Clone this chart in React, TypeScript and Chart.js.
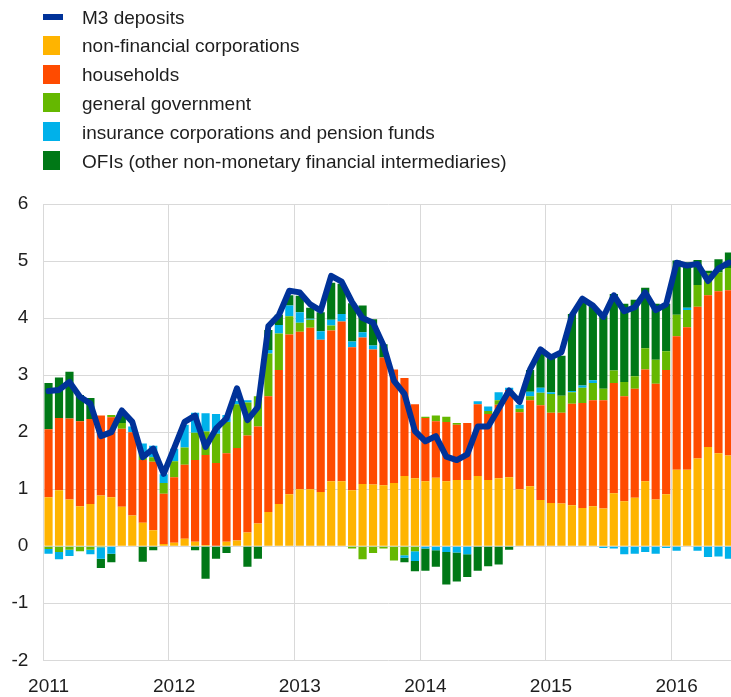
import React, { useEffect, useRef } from 'react';
import { Chart, registerables } from 'chart.js';

Chart.register(...registerables);

const years = ['2011', '2012', '2013', '2014', '2015', '2016'];
const monthsInLastYear = 6;
const categories: string[] = [];
years.forEach((y, i) => {
  const n = i === years.length - 1 ? monthsInLastYear : 12;
  for (let m = 1; m <= n; m++) categories.push(`${y}-${String(m).padStart(2, '0')}`);
});

const yTicks = [-2, -1, 0, 1, 2, 3, 4, 5, 6];

const m3Deposits = [
  2.72, 2.74, 2.88, 2.62, 2.50, 1.93, 2.00, 2.38, 2.18, 1.56, 1.71, 1.27,
  1.72, 2.18, 2.29, 1.74, 2.06, 2.24, 2.77, 2.21, 2.44, 3.86, 4.05, 4.48,
  4.45, 4.24, 4.13, 4.74, 4.64, 4.28, 4.00, 3.92, 3.52, 2.90, 2.67, 2.02,
  1.84, 1.93, 1.57, 1.51, 1.61, 2.10, 2.10, 2.41, 2.73, 2.53, 3.10, 3.45,
  3.31, 3.40, 4.05, 4.34, 4.22, 4.02, 4.40, 4.12, 4.19, 4.45, 4.14, 4.24,
  4.97, 4.92, 4.95, 4.65, 4.87, 4.97,
];

const nonFinancialCorps = [
  0.86, 0.98, 0.82, 0.70, 0.74, 0.89, 0.86, 0.69, 0.54, 0.41, 0.28, 0.04,
  0.06, 0.13, 0.08, 0.02, 0.00, 0.08, 0.10, 0.24, 0.40, 0.60, 0.74, 0.91,
  1.00, 1.00, 0.95, 1.14, 1.14, 0.98, 1.09, 1.08, 1.07, 1.11, 1.23, 1.19,
  1.14, 1.20, 1.14, 1.16, 1.16, 1.23, 1.16, 1.19, 1.21, 1.00, 1.05, 0.81,
  0.76, 0.75, 0.72, 0.67, 0.70, 0.66, 0.93, 0.79, 0.85, 1.14, 0.82, 0.91,
  1.34, 1.34, 1.54, 1.74, 1.63, 1.59,
];

const households = [
  1.19, 1.27, 1.42, 1.49, 1.49, 1.40, 1.40, 1.37, 1.46, 1.10, 1.20, 0.88,
  1.15, 1.30, 1.43, 1.58, 1.46, 1.55, 1.62, 1.70, 1.70, 2.03, 2.35, 2.80,
  2.76, 2.83, 2.67, 2.64, 2.80, 2.51, 2.57, 2.37, 2.24, 1.99, 1.72, 1.30,
  1.11, 0.99, 1.04, 0.97, 1.00, 1.26, 1.16, 1.29, 1.53, 1.35, 1.51, 1.66,
  1.58, 1.59, 1.78, 1.84, 1.86, 1.90, 1.93, 1.84, 1.91, 1.96, 2.03, 2.18,
  2.34, 2.50, 2.66, 2.66, 2.84, 2.90,
];

const generalGovernment = [
  -0.05, -0.10, -0.06, -0.09, -0.06, -0.02, 0.04, 0.10, 0.00, 0.12, 0.08, 0.19,
  0.28, 0.30, 0.48, 0.41, 0.51, 0.55, 0.77, 0.58, 0.53, 0.75, 0.64, 0.32,
  0.16, 0.14, 0.00, 0.09, 0.00, -0.04, -0.23, -0.12, -0.04, -0.25, -0.16, -0.09,
  0.02, 0.10, 0.09, 0.03, 0.00, 0.00, 0.05, 0.08, 0.00, 0.06, 0.07, 0.22,
  0.33, 0.30, 0.20, 0.27, 0.30, 0.20, 0.22, 0.25, 0.22, 0.37, 0.42, 0.33,
  0.38, 0.30, 0.38, 0.38, 0.33, 0.39,
];

const insurancePension = [
  -0.08, -0.13, -0.11, 0.00, -0.08, -0.20, -0.13, 0.00, 0.10, 0.17, 0.20, 0.15,
  0.22, 0.40, 0.35, 0.32, 0.35, 0.12, 0.06, 0.04, 0.00, 0.06, 0.15, 0.19,
  0.18, 0.02, 0.15, 0.10, 0.13, 0.10, 0.09, 0.07, 0.00, 0.00, -0.04, -0.17,
  -0.04, -0.07, -0.10, -0.11, -0.14, 0.05, 0.08, 0.14, 0.04, 0.07, 0.08, 0.09,
  0.03, 0.00, 0.02, 0.04, 0.05, -0.03, -0.04, -0.14, -0.13, -0.10, -0.13, -0.03,
  -0.08, 0.04, -0.08, -0.19, -0.18, -0.22,
];

const ofis = [
  0.81, 0.71, 0.82, 0.46, 0.37, -0.16, -0.15, 0.20, 0.00, -0.27, -0.07, 0.00,
  0.00, 0.00, -0.07, -0.57, -0.22, -0.12, 0.00, -0.36, -0.22, 0.35, 0.18, 0.18,
  0.29, 0.19, 0.33, 0.65, 0.53, 0.67, 0.47, 0.46, 0.23, 0.00, -0.08, -0.18,
  -0.39, -0.29, -0.57, -0.51, -0.40, -0.43, -0.35, -0.32, -0.06, 0.00, 0.38, 0.64,
  0.60, 0.70, 1.35, 1.50, 1.30, 1.28, 1.34, 1.37, 1.34, 1.06, 0.98, 0.83,
  0.95, 0.80, 0.44, 0.05, 0.23, 0.27,
];

const seriesNames = [
  'M3 deposits',
  'non-financial corporations',
  'households',
  'general government',
  'insurance corporations and pension funds',
  'OFIs (other non-monetary financial intermediaries)',
];
const seriesColors = ['#003299', '#FFB400', '#FF4B00', '#65B800', '#00B1EA', '#007816'];

const FONT = '"Liberation Sans", Arial, Helvetica, sans-serif';
const TEXT = '#1e1e1e';
const GRID = '#d9d9d9';
const FONT_SIZE = 19;

export default function App() {
  const ref = useRef<HTMLCanvasElement | null>(null);

  useEffect(() => {
    if (!ref.current) return;
    const barSeries = [nonFinancialCorps, households, generalGovernment, insurancePension, ofis];
    const chart = new Chart(ref.current, {
      type: 'bar',
      data: {
        labels: categories,
        datasets: [
          {
            type: 'line',
            label: seriesNames[0],
            data: m3Deposits,
            borderColor: seriesColors[0],
            backgroundColor: seriesColors[0],
            borderWidth: 6,
            pointRadius: 0,
            tension: 0,
            fill: false,
            stack: 'line',
            order: 0,
            borderJoinStyle: 'round',
            borderCapStyle: 'round',
          } as any,
          ...barSeries.map((d, i) => ({
            type: 'bar' as const,
            label: seriesNames[i + 1],
            data: d,
            backgroundColor: seriesColors[i + 1],
            stack: 'bars',
            order: 1,
            barPercentage: 0.78,
            categoryPercentage: 1,
          })),
        ],
      },
      options: {
        responsive: false,
        animation: false,
        layout: { padding: { top: 204, left: 0, right: 6, bottom: 0 } },
        plugins: { legend: { display: false }, tooltip: { enabled: false } },
        scales: {
          x: {
            stacked: true,
            grid: {
              offset: true,
              drawTicks: false,
              lineWidth: 1,
              color: (ctx: any) => (ctx.index % 12 === 0 ? GRID : 'rgba(0,0,0,0)'),
            },
            border: { display: false },
            ticks: {
              autoSkip: false,
              maxRotation: 0,
              minRotation: 0,
              padding: 15,
              color: TEXT,
              font: { family: FONT, size: FONT_SIZE },
              callback: (_v: any, i: number) => (i % 12 === 0 ? categories[i].slice(0, 4) : ''),
            },
            afterFit: (s: any) => {
              s.height = 36.7;
            },
          },
          y: {
            stacked: true,
            min: yTicks[0],
            max: yTicks[yTicks.length - 1],
            afterBuildTicks: (s: any) => {
              s.ticks = yTicks.map((v) => ({ value: v }));
            },
            grid: { color: GRID, lineWidth: 1, drawTicks: false },
            border: { display: false },
            ticks: {
              padding: 15,
              color: TEXT,
              font: { family: FONT, size: FONT_SIZE },
            },
            afterFit: (s: any) => {
              s.width = 43.3;
            },
          },
        },
      } as any,
    });
    return () => chart.destroy();
  }, []);

  const rowTop = 2;
  const rowH = 28.8;

  return (
    <div
      style={{
        position: 'absolute',
        left: 0,
        top: 0,
        width: 731,
        height: 697,
        overflow: 'hidden',
        background: '#ffffff',
      }}
    >
      <canvas
        ref={ref}
        width={744}
        height={697}
        style={{ position: 'absolute', left: 0, top: 0, width: 744, height: 697, display: 'block' }}
      />
      {seriesNames.map((name, i) => {
        const center = rowTop + 14.5 + i * rowH;
        return (
          <div key={name}>
            <div
              style={{
                position: 'absolute',
                left: 43,
                top: i === 0 ? center - 3 : center - 9.5,
                width: i === 0 ? 20 : 17,
                height: i === 0 ? 6 : 19,
                background: seriesColors[i],
              }}
            />
            <div
              style={{
                position: 'absolute',
                left: 82,
                top: center - 10,
                height: 22,
                lineHeight: '22px',
                fontFamily: FONT,
                fontSize: FONT_SIZE,
                color: TEXT,
                whiteSpace: 'nowrap',
              }}
            >
              {name}
            </div>
          </div>
        );
      })}
    </div>
  );
}
